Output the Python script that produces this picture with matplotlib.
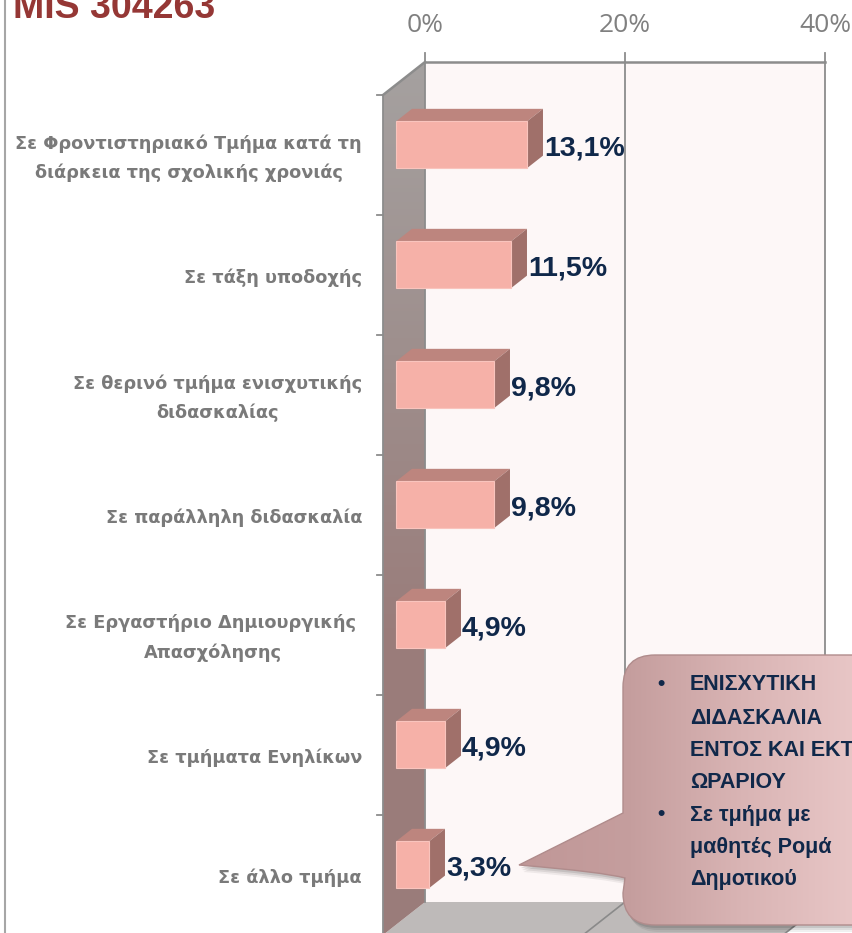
import numpy as np
import matplotlib
matplotlib.use("Agg")
import matplotlib.pyplot as plt
from matplotlib.patches import Polygon, PathPatch
from matplotlib.path import Path
from matplotlib.colors import LinearSegmentedColormap

plt.rcParams['font.family'] = ['Open Sans', 'DejaVu Sans']
BOLD = ['Liberation Sans', 'DejaVu Sans']

# data
categories = [
    "Σε Φροντιστηριακό Τμήμα κατά τη\nδιάρκεια της σχολικής χρονιάς",
    "Σε τάξη υποδοχής",
    "Σε θερινό τμήμα ενισχυτικής\nδιδασκαλίας",
    "Σε παράλληλη διδασκαλία",
    "Σε Εργαστήριο Δημιουργικής \nΑπασχόλησης",
    "Σε τμήματα Ενηλίκων",
    "Σε άλλο τμήμα",
]
values = [13.1, 11.5, 9.8, 9.8, 4.9, 4.9, 3.3]
x_ticks = [0, 20, 40]
title = "MIS 304263"
note_lines = [
    ("•", "ΕΝΙΣΧΥΤΙΚΗ"),
    ("", "ΔΙΔΑΣΚΑΛΙΑ"),
    ("", "ΕΝΤΟΣ ΚΑΙ ΕΚΤΟΣ"),
    ("", "ΩΡΑΡΙΟΥ"),
    ("•", "Σε τμήμα με"),
    ("", "μαθητές Ρομά"),
    ("", "Δημοτικού"),
]

W, H = 853, 933
fig = plt.figure(figsize=(W / 100, H / 100), dpi=100)
ax = fig.add_axes([0, 0, 1, 1])
ax.axis('off')

# front plane: 0% at x=383px, 10px per %, category rows 120px apart
x0_px, px_per_pct = 383, 10.0
c0_px, px_per_cat = 155, 120.0
xlim = (-x0_px / px_per_pct, (W - x0_px) / px_per_pct)
ylim = ((H - c0_px) / px_per_cat, -c0_px / px_per_cat)

# oblique depth vector (in data units)
DX, DY = 42 / px_per_pct, -33 / px_per_cat
xmax = x_ticks[-1]
c_top, c_bot = -0.5, len(categories) - 0.5


def proj(x, c, z):
    return (x + DX * z, c + DY * z)


def poly(pts, **kw):
    p = Polygon(pts, closed=True, **kw)
    ax.add_patch(p)
    return p


grid_col = '#8C8C8C'

# back wall
poly([proj(0, c_top, 1), proj(xmax, c_top, 1), proj(xmax, c_bot, 1), proj(0, c_bot, 1)],
     facecolor='#FDF7F7', edgecolor='none', zorder=1)

# floor
poly([proj(0, c_bot, 0), proj(xmax, c_bot, 0), proj(xmax, c_bot, 1), proj(0, c_bot, 1)],
     facecolor='#BEBAB9', edgecolor='none', zorder=1)
for t in x_ticks[1:]:
    xs, ys = zip(proj(t, c_bot, 1), proj(t, c_bot, 0))
    ax.plot(xs, ys, color='#8A8A8A', lw=1.2, zorder=2)

# side wall with vertical gradient
side = poly([proj(0, c_top, 0), proj(0, c_top, 1), proj(0, c_bot, 1), proj(0, c_bot, 0)],
            facecolor='none', edgecolor='none', zorder=2)
side_cmap = LinearSegmentedColormap.from_list('side', ['#A5A1A0', '#9E8F8D', '#9A7C7A', '#9B7D7B'])
grad = np.linspace(0, 1, 256).reshape(-1, 1)
im = ax.imshow(grad, cmap=side_cmap, extent=(0, DX, c_bot, c_top + DY),
               origin='upper', aspect='auto', zorder=2)
im.set_clip_path(side)

# gridlines and axis lines on the back wall
for t in x_ticks:
    xs, ys = zip(proj(t, c_top, 1), proj(t, c_bot, 1))
    ax.plot(xs, ys, color=grid_col, lw=1.3, zorder=3)
    xs, ys = zip(proj(t, c_top, 1), proj(t, c_top - 0.075, 1))
    ax.plot(xs, ys, color=grid_col, lw=1.3, zorder=3)
    lx, ly = proj(t, c_top - 0.3, 1)
    ax.text(lx, ly, f"{t}%", ha='center', va='center', fontsize=19,
            color='#808080', zorder=5)
xs, ys = zip(proj(0, c_top, 1), proj(xmax, c_top, 1))
ax.plot(xs, ys, color=grid_col, lw=1.8, zorder=3)
xs, ys = zip(proj(0, c_top, 0), proj(0, c_top, 1))
ax.plot(xs, ys, color=grid_col, lw=1.8, zorder=3)
xs, ys = zip(proj(0, c_top, 0), proj(0, c_bot, 0))
ax.plot(xs, ys, color=grid_col, lw=1.3, zorder=3)

# category boundary ticks on the front edge
for k in range(len(categories) + 1):
    c = c_top + k
    ax.plot([-0.6, 0], [c, c], color=grid_col, lw=1.3, zorder=3)

# 3D bars
h, z0, z1 = 0.195, 0.31, 0.69
for i, v in enumerate(values):
    poly([proj(0, i - h, z0), proj(v, i - h, z0), proj(v, i - h, z1), proj(0, i - h, z1)],
         facecolor='#BD857E', edgecolor='none', zorder=4)
    poly([proj(v, i - h, z0), proj(v, i + h, z0), proj(v, i + h, z1), proj(v, i - h, z1)],
         facecolor='#A0706A', edgecolor='none', zorder=4)
    poly([proj(0, i - h, z0), proj(v, i - h, z0), proj(v, i + h, z0), proj(0, i + h, z0)],
         facecolor='#F6B1A8', edgecolor='#F9C4BD', lw=0.8, zorder=4)
    lx = v + DX * z1 + 0.1
    ax.text(lx, i - 0.055, f"{v:.1f}%".replace('.', ','), ha='left', va='center',
            fontsize=20.5, fontweight='bold', family=BOLD, color='#10284A', zorder=6)

# category labels
for i, lab in enumerate(categories):
    ax.text(-2.1, i + 0.025, lab, ha='right', va='center', multialignment='center',
            fontsize=12.8, fontweight='bold', family='DejaVu Sans', color='#7A7A7A',
            linespacing=1.75, zorder=5)

ax.set_xlim(*xlim)
ax.set_ylim(*ylim)

# title and left frame line
fig.text(13 / W, 1 - 18 / H, title, ha='left', va='baseline', fontsize=27,
         fontweight='bold', family=BOLD, color='#953735')
fig.add_artist(plt.Line2D([5 / W, 5 / W], [0, 1], color='#A6A6A6', lw=1.5))

# callout in pixel coordinates
ov = fig.add_axes([0, 0, 1, 1])
ov.set_xlim(0, W)
ov.set_ylim(H, 0)
ov.axis('off')
ov.patch.set_alpha(0)

L, T, R, B, r = 623, 655, 900, 925, 32
tip = (519, 865)
verts = [
    (L, T + r), (L, T), (L + r, T),
    (R, T), (R, B),
    (L + r, B), (L, B), (L, B - r),
    (L + 2, 878), (L - 20, 872), tip,
    (L, 813),
    (L, T + r),
]
codes = [
    Path.MOVETO, Path.CURVE3, Path.CURVE3,
    Path.LINETO, Path.LINETO,
    Path.LINETO, Path.CURVE3, Path.CURVE3,
    Path.LINETO, Path.CURVE3, Path.CURVE3,
    Path.LINETO,
    Path.CLOSEPOLY,
]
callout = Path(verts, codes)

# soft shadow
for k, a in zip([7, 5, 3], [0.06, 0.08, 0.10]):
    sh = Path(np.array(verts) + np.array([k * 0.6, k]), codes)
    ov.add_patch(PathPatch(sh, facecolor='black', edgecolor='none', alpha=a, zorder=1))

clip = PathPatch(callout, facecolor='none', edgecolor='#B08C8C', lw=1.0, zorder=3)
ov.add_patch(clip)
box_cmap = LinearSegmentedColormap.from_list('box', ['#C09797', '#C59E9E', '#D9B4B4', '#E8C6C6'])
hgrad = np.linspace(0, 1, 256).reshape(1, -1)
bim = ov.imshow(hgrad, cmap=box_cmap, extent=(tip[0], W, B, T), origin='upper',
                aspect='auto', zorder=2)
bim.set_clip_path(clip)
ov.set_xlim(0, W)
ov.set_ylim(H, 0)

line_y = [685, 718, 750, 783, 815, 848, 880]
for (bullet, txt), y in zip(note_lines, line_y):
    if bullet:
        ov.text(657, y, bullet, ha='left', va='center', fontsize=15,
                fontweight='bold', family=BOLD, color='#10284A', zorder=4)
    ov.text(690, y, txt, ha='left', va='center', fontsize=15.5,
            fontweight='bold', family=BOLD, color='#10284A', zorder=4)

fig.savefig('out.png', dpi=100)
